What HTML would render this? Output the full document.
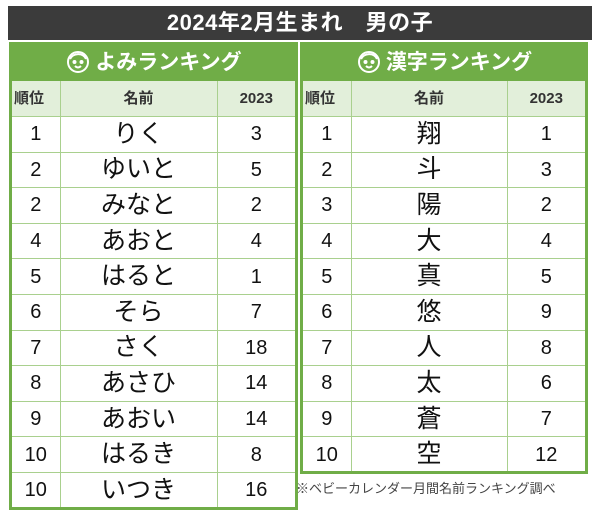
<!DOCTYPE html>
<html><head><meta charset="utf-8"><style>
body{margin:0;width:600px;height:518px;background:#fff;font-family:"Liberation Sans","Noto Sans CJK JP",sans-serif;position:relative;overflow:hidden}
.title{position:absolute;left:8px;top:6px;width:584px;height:34px;background:#3b3b3b;color:#fff;font-weight:bold;font-size:22px;line-height:34px;text-align:center;letter-spacing:0.5px}
.panel{position:absolute;border:3px solid #70ad47;box-sizing:border-box;background:#fff;overflow:hidden}
.hd{height:36px;background:#70ad47;color:#fff;font-weight:bold;font-size:21px;line-height:36px;text-align:center}
.hd svg{vertical-align:-5px;margin-right:4px}
table{border-collapse:collapse;width:100%;table-layout:fixed}
td{border:1.5px solid #a9d08e;text-align:center;padding:0;height:34.6px;line-height:1;font-size:20px;color:#111;overflow:hidden}
tr.h td{background:#e2efda;font-weight:bold;font-size:15px;color:#333;height:35px}
tr.h td:first-child{text-align:left;padding-left:2px}
td.n{font-size:25px;line-height:1}
tr:first-child td{border-top:none}
tr:last-child td{border-bottom:none}
td:first-child{border-left:none} td:last-child{border-right:none}
.note{position:absolute;left:296px;top:478px;font-size:13px;color:#444}
</style></head><body>
<div class="title">2024年2月生まれ　男の子</div>
<div class="panel" style="left:9px;top:42px;width:289px;height:468px">
<div class="hd"><svg width="26" height="26" viewBox="0 0 26 26" fill="none" stroke="#fff" stroke-width="2"><circle cx="13" cy="14" r="10"/><path d="M5 11c3-6 13-7 16 0"/><circle cx="9.5" cy="14" r="1" fill="#fff"/><circle cx="16.5" cy="14" r="1" fill="#fff"/><path d="M10 18c2 2 4 2 6 0"/></svg>よみランキング</div>
<table><colgroup><col style="width:48px"><col style="width:157px"><col></colgroup>
<tr class="h"><td>順位</td><td>名前</td><td>2023</td></tr>
<tr><td>1</td><td class="n">りく</td><td>3</td></tr>
<tr><td>2</td><td class="n">ゆいと</td><td>5</td></tr>
<tr><td>2</td><td class="n">みなと</td><td>2</td></tr>
<tr><td>4</td><td class="n">あおと</td><td>4</td></tr>
<tr><td>5</td><td class="n">はると</td><td>1</td></tr>
<tr><td>6</td><td class="n">そら</td><td>7</td></tr>
<tr><td>7</td><td class="n">さく</td><td>18</td></tr>
<tr><td>8</td><td class="n">あさひ</td><td>14</td></tr>
<tr><td>9</td><td class="n">あおい</td><td>14</td></tr>
<tr><td>10</td><td class="n">はるき</td><td>8</td></tr>
<tr><td>10</td><td class="n">いつき</td><td>16</td></tr>
</table></div>
<div class="panel" style="left:300px;top:42px;width:288px;height:432px">
<div class="hd"><svg width="26" height="26" viewBox="0 0 26 26" fill="none" stroke="#fff" stroke-width="2"><circle cx="13" cy="14" r="10"/><path d="M5 11c3-6 13-7 16 0"/><circle cx="9.5" cy="14" r="1" fill="#fff"/><circle cx="16.5" cy="14" r="1" fill="#fff"/><path d="M10 18c2 2 4 2 6 0"/></svg>漢字ランキング</div>
<table><colgroup><col style="width:48px"><col style="width:156px"><col></colgroup>
<tr class="h"><td>順位</td><td>名前</td><td>2023</td></tr>
<tr><td>1</td><td class="n">翔</td><td>1</td></tr>
<tr><td>2</td><td class="n">斗</td><td>3</td></tr>
<tr><td>3</td><td class="n">陽</td><td>2</td></tr>
<tr><td>4</td><td class="n">大</td><td>4</td></tr>
<tr><td>5</td><td class="n">真</td><td>5</td></tr>
<tr><td>6</td><td class="n">悠</td><td>9</td></tr>
<tr><td>7</td><td class="n">人</td><td>8</td></tr>
<tr><td>8</td><td class="n">太</td><td>6</td></tr>
<tr><td>9</td><td class="n">蒼</td><td>7</td></tr>
<tr><td>10</td><td class="n">空</td><td>12</td></tr>
</table></div>
<div class="note">※ベビーカレンダー月間名前ランキング調べ</div>
</body></html>
